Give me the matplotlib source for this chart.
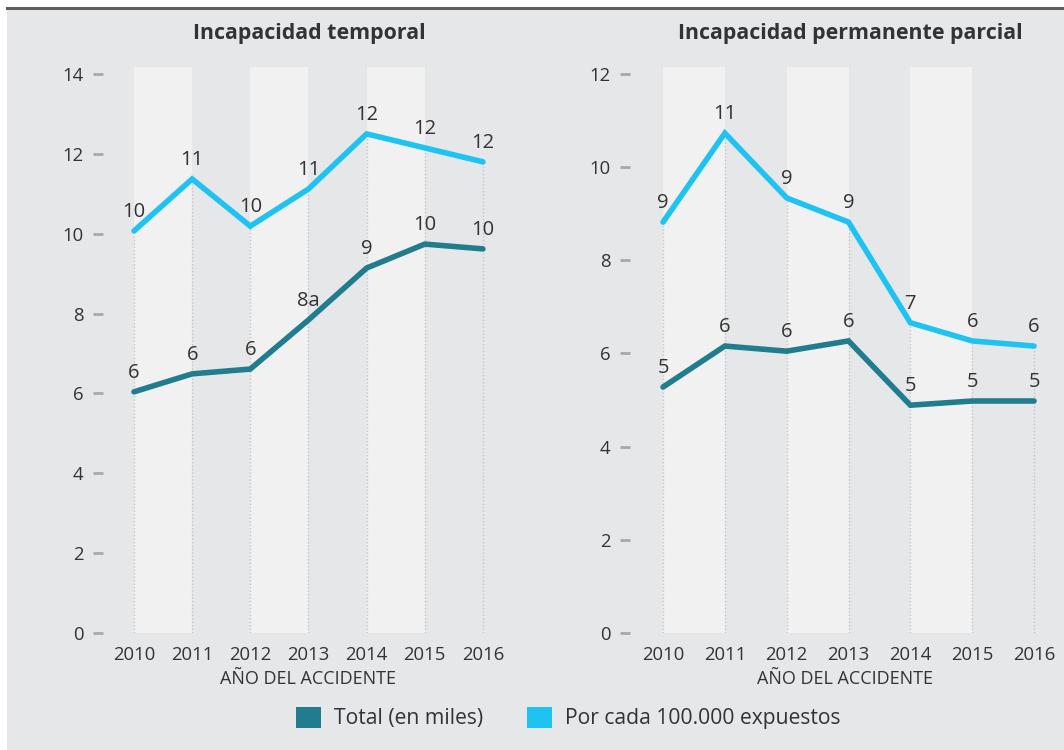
import matplotlib
matplotlib.use("Agg")
from matplotlib import pyplot as plt
from matplotlib.patches import Patch, Rectangle
from matplotlib.lines import Line2D

plt.rcParams['font.family'] = ['Open Sans', 'DejaVu Sans']

years = [2010, 2011, 2012, 2013, 2014, 2015, 2016]

# Incapacidad temporal
temp_total = [6.04, 6.49, 6.61, 7.84, 9.14, 9.74, 9.62]
temp_rate = [10.07, 11.37, 10.19, 11.12, 12.5, 12.15, 11.8]
temp_total_lbl = ['6', '6', '6', '8a', '9', '10', '10']
temp_rate_lbl = ['10', '11', '10', '11', '12', '12', '12']

# Incapacidad permanente parcial
perm_total = [5.28, 6.16, 6.05, 6.27, 4.89, 4.98, 4.98]
perm_rate = [8.82, 10.73, 9.34, 8.82, 6.66, 6.27, 6.16]
perm_total_lbl = ['5', '6', '6', '6', '5', '5', '5']
perm_rate_lbl = ['9', '11', '9', '9', '7', '6', '6']

titles = ['Incapacidad temporal', 'Incapacidad permanente parcial']
legend_labels = ['Total (en miles)', 'Por cada 100.000 expuestos']

c_total = '#217d8e'
c_rate = '#1fc3f1'
c_bg = '#e6e7e9'
c_band = '#f1f1f1'
c_text = '#333333'

W, H = 1064, 750
fig = plt.figure(figsize=(W / 100, H / 100), dpi=100)
fig.patch.set_facecolor('white')

# grey panel and top rule
fig.add_artist(Rectangle((7 / W, 0), 1, (H - 8) / H, transform=fig.transFigure,
                         facecolor=c_bg, edgecolor='none', zorder=0))
fig.add_artist(Line2D([7 / W, 1], [(H - 8) / H] * 2, transform=fig.transFigure,
                      color='#5f5f5f', lw=2.2, zorder=1))

# axes boxes in pixels: (left, right, xlim, ylim_top, ticks)
panels = [
    (103, 512, (2009.467, 2016.5), 14.175, [0, 2, 4, 6, 8, 10, 12, 14],
     temp_total, temp_rate, temp_total_lbl, temp_rate_lbl),
    (630, 1060, (2009.466, 2016.42), 12.15, [0, 2, 4, 6, 8, 10, 12],
     perm_total, perm_rate, perm_total_lbl, perm_rate_lbl),
]

y0, y1 = 633, 67
for i, (xl, xr, xlim, ytop, yticks, tot, rate, tot_lbl, rate_lbl) in enumerate(panels):
    ax = fig.add_axes([xl / W, (H - y0) / H, (xr - xl) / W, (y0 - y1) / H])
    ax.set_facecolor('none')
    ax.set_xlim(*xlim)
    ax.set_ylim(0, ytop)
    for s in ax.spines.values():
        s.set_visible(False)

    # light bands
    for a in years[0:-1:2]:
        ax.axvspan(a, a + 1, color=c_band, lw=0, zorder=0)

    # dotted guides up to top point
    for yr, a, b in zip(years, tot, rate):
        ax.plot([yr, yr], [0, max(a, b)], color='#c4c4c4', lw=1,
                ls=(0, (1, 1.5)), zorder=1)

    ax.plot(years, tot, color=c_total, lw=4, solid_capstyle='round',
            solid_joinstyle='miter', zorder=3)
    ax.plot(years, rate, color=c_rate, lw=4, solid_capstyle='round',
            solid_joinstyle='miter', zorder=3)

    for yr, v, t in zip(years, tot, tot_lbl):
        ax.annotate(t, (yr, v), xytext=(0, 10), textcoords='offset points',
                    ha='center', va='baseline', fontsize=14.5, color=c_text, zorder=4)
    for yr, v, t in zip(years, rate, rate_lbl):
        ax.annotate(t, (yr, v), xytext=(0, 10), textcoords='offset points',
                    ha='center', va='baseline', fontsize=14.5, color=c_text, zorder=4)

    ax.set_xticks(years)
    ax.set_xticklabels([str(y) for y in years], fontsize=13.3, color=c_text)
    ax.tick_params(axis='x', length=0, pad=9)
    ax.set_yticks(yticks)
    ax.set_yticklabels([str(v) for v in yticks], fontsize=13.3, color=c_text)
    ax.tick_params(axis='y', length=7, width=2, color='#a9a9a9', pad=7)
    ax.set_xlabel('AÑO DEL ACCIDENTE', fontsize=13, color=c_text, labelpad=5)

    fig.text(((xl + xr) / 2 + (2 if i == 0 else 5)) / W, (H - 34) / H, titles[i],
             ha='center', va='center', fontsize=15.4, fontweight='bold', color=c_text)

handles = [Patch(facecolor=c_total, edgecolor='none'),
           Patch(facecolor=c_rate, edgecolor='none')]
fig.legend(handles, legend_labels, loc='center', bbox_to_anchor=(568 / W, (H - 718) / H),
           ncol=2, frameon=False, fontsize=15.2, handlelength=1.2, handleheight=1.2,
           handletextpad=0.6, columnspacing=2.1, labelcolor=c_text)

fig.savefig('out.png', dpi=100, facecolor=fig.get_facecolor())
